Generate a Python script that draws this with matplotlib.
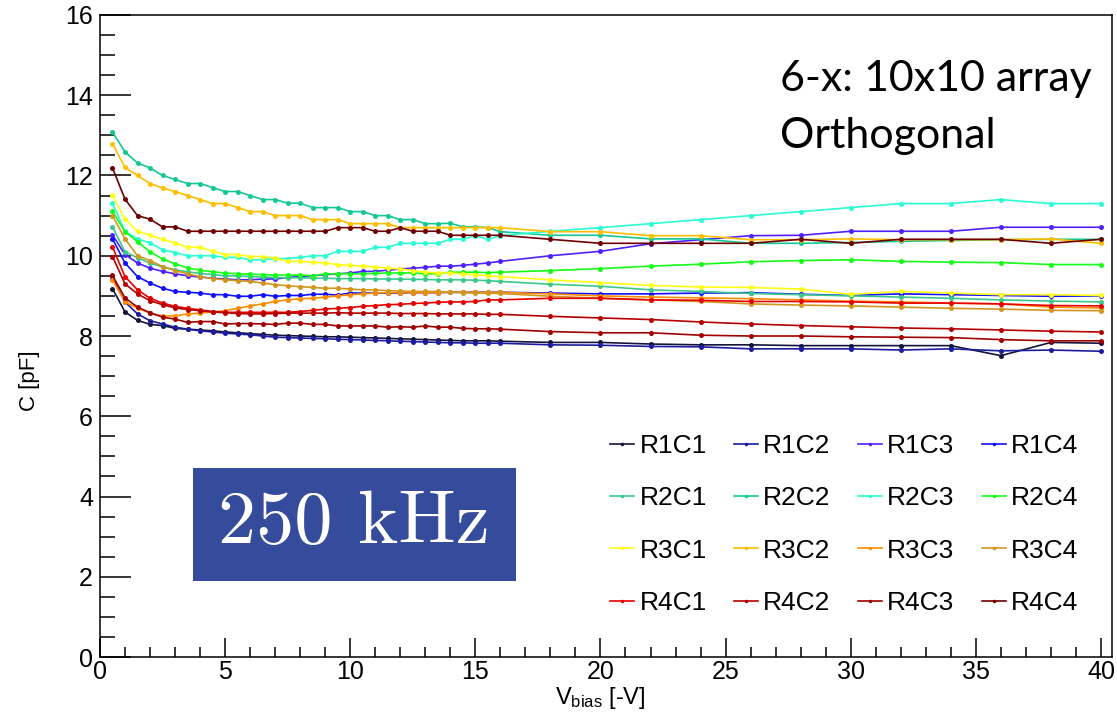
import numpy as np
import matplotlib
matplotlib.use("Agg")
import matplotlib.pyplot as plt
from matplotlib.patches import Rectangle

# bias voltage steps: 0.5 V up to 16 V, then 2 V steps up to 40 V
v_fine = [0.5, 1.0, 1.5, 2.0, 2.5, 3.0, 3.5, 4.0, 4.5, 5.0, 5.5, 6.0, 6.5, 7.0,
          7.5, 8.0, 8.5, 9.0, 9.5, 10.0, 10.5, 11.0, 11.5, 12.0, 12.5, 13.0, 13.5,
          14.0, 14.5, 15.0, 15.5, 16.0]
v_coarse = [18, 20, 22, 24, 26, 28, 30, 32, 34, 36, 38, 40]
v_bias = v_fine + v_coarse

r1c1 = [9.18, 8.6, 8.39, 8.29, 8.26, 8.19, 8.17, 8.15, 8.13, 8.1, 8.08, 8.06, 8.04, 8.02,
        8.01, 8.0, 7.99, 7.98, 7.98, 7.97, 7.96, 7.95, 7.94, 7.93, 7.92, 7.91, 7.9, 7.89, 7.88, 7.88, 7.88, 7.87,
        7.84, 7.84, 7.8, 7.78, 7.78, 7.76, 7.76, 7.76, 7.76, 7.51, 7.84, 7.82]
r1c2 = [9.45, 8.85, 8.55, 8.38, 8.3, 8.22, 8.17, 8.13, 8.1, 8.07, 8.05, 8.03, 8.0, 7.97,
        7.96, 7.95, 7.94, 7.93, 7.92, 7.91, 7.9, 7.89, 7.88, 7.87, 7.86, 7.85, 7.84, 7.83, 7.83, 7.82, 7.82, 7.82,
        7.78, 7.77, 7.74, 7.73, 7.68, 7.68, 7.68, 7.65, 7.68, 7.63, 7.65, 7.62]
r1c3 = [10.52, 10.03, 9.82, 9.69, 9.61, 9.55, 9.5, 9.47, 9.44, 9.42, 9.4, 9.4, 9.42, 9.42,
        9.46, 9.48, 9.5, 9.53, 9.55, 9.57, 9.61, 9.61, 9.64, 9.67, 9.69, 9.71, 9.74, 9.74, 9.76, 9.79, 9.82, 9.86,
        10.0, 10.11, 10.3, 10.4, 10.5, 10.51, 10.61, 10.61, 10.61, 10.71, 10.71, 10.71]
r1c4 = [10.42, 9.82, 9.48, 9.32, 9.19, 9.11, 9.09, 9.07, 9.03, 9.03, 8.99, 8.99, 9.03, 8.99,
        9.01, 9.01, 9.04, 9.04, 9.02, 9.07, 9.07, 9.07, 9.07, 9.07, 9.08, 9.08, 9.08, 9.09, 9.09, 9.09, 9.09, 9.09,
        9.07, 9.05, 9.05, 9.07, 9.08, 9.04, 9.01, 9.05, 9.03, 9.01, 8.99, 9.0]
r2c1 = [10.72, 10.1, 9.95, 9.82, 9.72, 9.65, 9.6, 9.56, 9.53, 9.5, 9.5, 9.48, 9.47, 9.46,
        9.45, 9.45, 9.44, 9.44, 9.43, 9.43, 9.43, 9.42, 9.42, 9.42, 9.41, 9.41, 9.4, 9.4, 9.4, 9.39, 9.38, 9.36,
        9.29, 9.24, 9.15, 9.11, 9.06, 9.03, 9.0, 8.97, 8.94, 8.9, 8.87, 8.85]
r2c2 = [13.08, 12.59, 12.31, 12.19, 12.0, 11.9, 11.8, 11.8, 11.7, 11.6, 11.6, 11.5, 11.4, 11.4,
        11.31, 11.31, 11.2, 11.2, 11.2, 11.1, 11.1, 11.0, 11.0, 10.9, 10.9, 10.8, 10.8, 10.81, 10.72, 10.72, 10.7, 10.6,
        10.51, 10.51, 10.42, 10.42, 10.31, 10.31, 10.33, 10.36, 10.38, 10.4, 10.41, 10.41]
r2c3 = [11.31, 10.61, 10.42, 10.32, 10.15, 10.08, 10.0, 10.0, 10.0, 9.96, 9.96, 9.9, 9.9, 9.93,
        9.93, 9.96, 10.0, 10.0, 10.11, 10.11, 10.11, 10.21, 10.21, 10.31, 10.31, 10.31, 10.31, 10.41, 10.41, 10.5, 10.41, 10.5,
        10.61, 10.7, 10.8, 10.9, 11.0, 11.1, 11.2, 11.3, 11.3, 11.4, 11.3, 11.3]
r2c4 = [11.11, 10.6, 10.35, 10.1, 9.92, 9.8, 9.7, 9.64, 9.6, 9.57, 9.55, 9.54, 9.53, 9.52,
        9.52, 9.52, 9.5, 9.55, 9.55, 9.55, 9.55, 9.56, 9.57, 9.57, 9.57, 9.55, 9.55, 9.59, 9.59, 9.59, 9.58, 9.59,
        9.63, 9.68, 9.74, 9.79, 9.85, 9.88, 9.9, 9.86, 9.84, 9.83, 9.78, 9.78]
r3c1 = [11.51, 10.91, 10.61, 10.51, 10.41, 10.32, 10.21, 10.21, 10.11, 10.03, 10.03, 9.98, 9.98, 9.94,
        9.86, 9.86, 9.84, 9.82, 9.78, 9.76, 9.74, 9.72, 9.69, 9.67, 9.63, 9.59, 9.57, 9.57, 9.55, 9.53, 9.5, 9.48,
        9.4, 9.33, 9.26, 9.22, 9.21, 9.17, 9.04, 9.11, 9.07, 9.03, 9.03, 9.01]
r3c2 = [12.79, 12.2, 12.0, 11.8, 11.69, 11.6, 11.5, 11.4, 11.3, 11.3, 11.2, 11.1, 11.1, 11.0,
        11.0, 11.0, 10.9, 10.9, 10.9, 10.8, 10.8, 10.8, 10.8, 10.7, 10.7, 10.7, 10.7, 10.7, 10.7, 10.7, 10.7, 10.7,
        10.6, 10.6, 10.5, 10.5, 10.4, 10.4, 10.42, 10.4, 10.4, 10.4, 10.42, 10.31]
r3c3 = [9.4, 8.85, 8.69, 8.57, 8.5, 8.5, 8.55, 8.57, 8.6, 8.63, 8.69, 8.75, 8.8, 8.86,
        8.9, 8.93, 8.94, 8.97, 9.0, 9.03, 9.05, 9.07, 9.08, 9.08, 9.08, 9.08, 9.08, 9.09, 9.09, 9.09, 9.09, 9.09,
        9.05, 9.0, 8.97, 8.95, 8.93, 8.9, 8.87, 8.85, 8.82, 8.8, 8.72, 8.7]
r3c4 = [11.0, 10.42, 10.0, 9.88, 9.73, 9.63, 9.55, 9.48, 9.43, 9.4, 9.38, 9.36, 9.32, 9.28,
        9.25, 9.23, 9.21, 9.19, 9.19, 9.17, 9.15, 9.15, 9.13, 9.12, 9.11, 9.11, 9.11, 9.09, 9.08, 9.07, 9.07, 9.06,
        8.99, 8.94, 8.9, 8.86, 8.8, 8.77, 8.75, 8.72, 8.69, 8.67, 8.64, 8.63]
r4c1 = [10.22, 9.48, 9.15, 8.94, 8.82, 8.74, 8.69, 8.65, 8.61, 8.59, 8.59, 8.59, 8.59, 8.59,
        8.59, 8.61, 8.64, 8.67, 8.69, 8.71, 8.74, 8.76, 8.78, 8.79, 8.81, 8.82, 8.84, 8.85, 8.85, 8.86, 8.9, 8.9,
        8.94, 8.94, 8.9, 8.89, 8.86, 8.86, 8.85, 8.82, 8.82, 8.8, 8.76, 8.75]
r4c2 = [9.98, 9.3, 9.05, 8.88, 8.78, 8.7, 8.66, 8.63, 8.6, 8.58, 8.56, 8.55, 8.55, 8.56,
        8.57, 8.57, 8.57, 8.57, 8.58, 8.57, 8.57, 8.57, 8.57, 8.56, 8.56, 8.56, 8.55, 8.55, 8.55, 8.55, 8.54, 8.54,
        8.49, 8.45, 8.41, 8.35, 8.3, 8.26, 8.23, 8.2, 8.18, 8.15, 8.12, 8.1]
r4c3 = [9.51, 8.95, 8.72, 8.58, 8.47, 8.42, 8.34, 8.36, 8.36, 8.3, 8.31, 8.31, 8.3, 8.29,
        8.32, 8.32, 8.29, 8.29, 8.25, 8.25, 8.25, 8.25, 8.22, 8.23, 8.22, 8.25, 8.22, 8.22, 8.19, 8.18, 8.18, 8.17,
        8.11, 8.08, 8.08, 8.02, 8.0, 8.0, 7.98, 7.97, 7.96, 7.91, 7.88, 7.88]
r4c4 = [12.19, 11.41, 11.0, 10.91, 10.72, 10.72, 10.61, 10.61, 10.61, 10.61, 10.61, 10.61, 10.61, 10.61,
        10.61, 10.61, 10.61, 10.61, 10.7, 10.7, 10.7, 10.61, 10.61, 10.7, 10.61, 10.61, 10.61, 10.51, 10.51, 10.51, 10.51, 10.51,
        10.41, 10.31, 10.31, 10.31, 10.31, 10.41, 10.31, 10.41, 10.41, 10.41, 10.31, 10.41]

pads = ["R1C1", "R1C2", "R1C3", "R1C4", "R2C1", "R2C2", "R2C3", "R2C4",
        "R3C1", "R3C2", "R3C3", "R3C4", "R4C1", "R4C2", "R4C3", "R4C4"]
curves = [r1c1, r1c2, r1c3, r1c4, r2c1, r2c2, r2c3, r2c4,
          r3c1, r3c2, r3c3, r3c4, r4c1, r4c2, r4c3, r4c4]
colors = ["#14143c", "#1c1ca0", "#5020ff", "#1010ff",
          "#3cc88c", "#14c896", "#28ffd2", "#14ff14",
          "#ffff14", "#ffbe00", "#ff8c00", "#d2961e",
          "#e60000", "#b40000", "#a00000", "#6e0000"]

plt.rcParams['font.family'] = ['Liberation Sans', 'DejaVu Sans']

fig = plt.figure(figsize=(11.17, 7.13), dpi=100)
ax = fig.add_axes([0.0895, 0.0785, 0.906, 0.9005])

lines = {}
for name, vals, col in zip(pads, curves, colors):
    ln, = ax.plot(v_bias, vals, color=col, lw=1.2, marker='o', markersize=3.6,
                  markeredgewidth=0, label=name)
    lines[name] = ln

ax.set_xlim(0, 40.44)
ax.set_ylim(0, 16)
ax.set_xticks(np.arange(0, 41, 5))
ax.set_xticks(np.arange(0, 41, 1), minor=True)
ax.set_yticks(np.arange(0, 17, 2))
ax.set_yticks(np.arange(0, 16.1, 0.5), minor=True)
ax.tick_params(axis='both', which='both', direction='in', labelsize=18, width=1.1)
ax.tick_params(axis='y', which='major', length=22, pad=5)
ax.tick_params(axis='y', which='minor', length=11)
ax.tick_params(axis='x', which='major', length=14)
ax.tick_params(axis='x', which='minor', length=7)
ax.tick_params(axis='x', pad=2)
for sp in ax.spines.values():
    sp.set_linewidth(1.1)

ax.set_xlabel(r"$\mathregular{V_{bias}}$ [-V]", fontsize=17)
ax.xaxis.set_label_coords(0.494, -0.043)
ax.set_ylabel("C [pF]", fontsize=16)
ax.yaxis.set_label_coords(-0.059, 0.431)

# legend laid out row-wise: R1.. on first row
order = [p for c in range(4) for p in pads[c::4]]
ax.legend([lines[p] for p in order], order, ncol=4, frameon=False,
          fontsize=19, handlelength=0.9, handletextpad=0.2, columnspacing=1.04,
          labelspacing=1.07, markerscale=0.7,
          loc='upper left', bbox_to_anchor=(0.481, 0.384))

fig.text(0.698, 0.872, "6-x: 10x10 array", fontsize=31, family='Lato')
fig.text(0.698, 0.793, "Orthogonal", fontsize=31, family='Lato')

# frequency badge
fig.patches.append(Rectangle((0.173, 0.185), 0.289, 0.159, transform=fig.transFigure,
                             facecolor='#354b9b', edgecolor='none', zorder=3))
fig.text(0.317, 0.265, "250 kHz", fontsize=55, family='cmr10', color='white',
         ha='center', va='center', zorder=4)

fig.savefig("out.png", dpi=100)
